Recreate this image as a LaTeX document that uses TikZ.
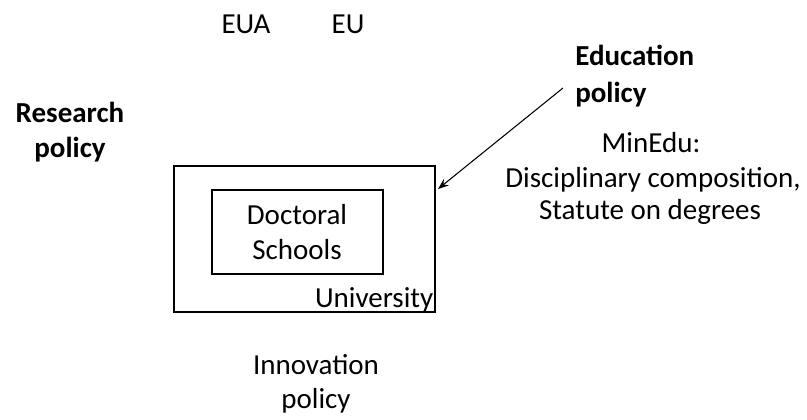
\documentclass[tikz,border=0pt]{standalone}
\usepackage{fontspec}
\setmainfont{Carlito}
\usetikzlibrary{arrows.meta}
\tikzset{
  lbl/.style={inner sep=0pt, anchor=base, font=\fontsize{21.75}{26}\selectfont},
  blbl/.style={lbl, font=\fontsize{21.75}{26}\selectfont\bfseries},
  frame/.style={draw=black, line width=1pt, inner sep=0pt},
  conn/.style={draw=black, line width=0.8pt, -{Stealth[length=8pt,width=6pt]}}
}
\begin{document}
\begin{tikzpicture}[x=0.75pt,y=-0.75pt]
\useasboundingbox (0,0) rectangle (807,419);
% top labels
\node[lbl] (eua) at (246,33) {EUA};
\node[lbl] (eu) at (348,33) {EU};
% research policy
\node[blbl] (res1) at (70,122) {Research};
\node[blbl] (res2) at (70,157) {policy};
% education policy
\node[blbl, anchor=base west] (edu1) at (575,65) {Education};
\node[blbl, anchor=base west] (edu2) at (575,102) {policy};
% MinEdu
\node[lbl] (min1) at (651,152) {MinEdu:};
\node[lbl] (min2) at (653,187) {Disciplinary composition,};
\node[lbl] (min3) at (650,219) {Statute on degrees};
% boxes
\node[frame, minimum width=195.75pt, minimum height=109.5pt] (uni) at (304.5,239) {};
\node[frame, minimum width=128.25pt, minimum height=63pt] (ds) at (297.5,232) {};
\node[lbl] (doc1) at (297,224) {Doctoral};
\node[lbl] (doc2) at (297,259) {Schools};
\node[lbl, anchor=base east] (unil) at (433.5,307) {University};
% innovation
\node[lbl] (inn1) at (316,374) {Innovation};
\node[lbl] (inn2) at (316,408) {policy};
% arrow
\coordinate (start) at (563,88);
\coordinate (tip) at (438,189);
\draw[conn] (start) -- (tip);
\end{tikzpicture}
\end{document}
